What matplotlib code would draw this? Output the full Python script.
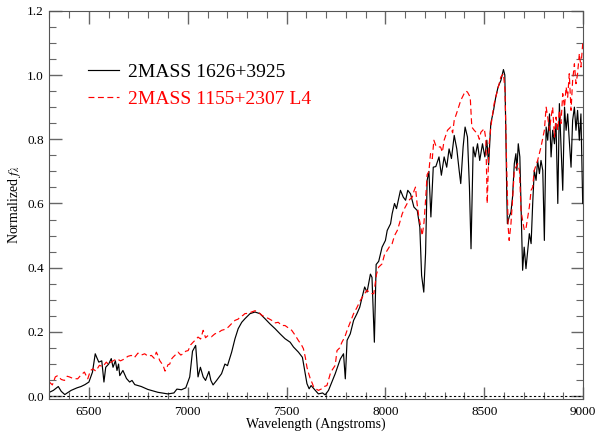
import matplotlib
matplotlib.use("Agg")
import matplotlib.pyplot as plt
from matplotlib.ticker import MultipleLocator, FormatStrFormatter
import numpy

#------------------------------------
# 2MASS 1626+3925 (black, solid)
wave_a = [6300, 6320, 6345, 6360, 6378, 6410, 6440, 6460, 6480, 6500,
          6518, 6532, 6540, 6550, 6565, 6576, 6585, 6600, 6613, 6622,
          6634, 6642, 6650, 6656, 6672, 6690, 6706, 6718, 6732, 6765,
          6798, 6849, 6900, 6930, 6945, 6968, 6990, 7010, 7024, 7040,
          7052, 7064, 7078, 7090, 7107, 7117, 7128, 7146, 7171, 7188,
          7201, 7222, 7239, 7255, 7273, 7289, 7315, 7340, 7365, 7391,
          7416, 7442, 7467, 7492, 7518, 7535, 7560, 7580, 7590, 7603,
          7614, 7624, 7645, 7661, 7682, 7695, 7712, 7729, 7746, 7772,
          7788, 7797, 7806, 7822, 7839, 7856, 7870, 7882, 7895, 7907,
          7924, 7932, 7944, 7953, 7966, 7983, 8000, 8009, 8026, 8034,
          8046, 8056, 8076, 8090, 8102, 8113, 8127, 8144, 8161, 8174,
          8183, 8194, 8203, 8211, 8220, 8230, 8242, 8255, 8271, 8283,
          8297, 8310, 8322, 8334, 8348, 8361, 8373, 8381, 8393, 8403,
          8415, 8425, 8433, 8444, 8454, 8466, 8477, 8491, 8503, 8513,
          8522, 8533, 8547, 8558, 8570, 8584, 8597, 8604, 8609, 8614,
          8617, 8626, 8635, 8643, 8652, 8660, 8665, 8672, 8680, 8689,
          8694, 8702, 8711, 8720, 8728, 8737, 8745, 8753, 8762, 8770,
          8779, 8787, 8796, 8804, 8813, 8821, 8830, 8838, 8846, 8855,
          8863, 8872, 8880, 8888, 8897, 8906, 8914, 8922, 8930, 8939,
          8947, 8956, 8964, 8972, 8981, 8989, 8998]
flux_a = [0.012, 0.018, 0.030, 0.015, 0.005, 0.018, 0.026, 0.030, 0.036, 0.044,
          0.075, 0.132, 0.120, 0.106, 0.110, 0.044, 0.090, 0.100, 0.117, 0.090,
          0.110, 0.080, 0.100, 0.064, 0.080, 0.055, 0.044, 0.049, 0.036, 0.030,
          0.021, 0.012, 0.007, 0.010, 0.022, 0.020, 0.026, 0.060, 0.140, 0.158,
          0.060, 0.090, 0.060, 0.049, 0.077, 0.049, 0.035, 0.049, 0.070, 0.100,
          0.095, 0.137, 0.179, 0.210, 0.230, 0.241, 0.257, 0.262, 0.257, 0.241,
          0.225, 0.210, 0.194, 0.179, 0.168, 0.153, 0.137, 0.121, 0.085, 0.039,
          0.023, 0.033, 0.018, 0.007, 0.010, 0.004, 0.018, 0.044, 0.070, 0.116,
          0.132, 0.054, 0.174, 0.194, 0.236, 0.257, 0.277, 0.308, 0.340, 0.324,
          0.380, 0.370, 0.168, 0.410, 0.420, 0.464, 0.485, 0.516, 0.537, 0.568,
          0.600, 0.584, 0.641, 0.620, 0.610, 0.641, 0.630, 0.589, 0.578, 0.526,
          0.376, 0.324, 0.444, 0.672, 0.700, 0.558, 0.713, 0.715, 0.745, 0.688,
          0.745, 0.713, 0.770, 0.740, 0.812, 0.770, 0.703, 0.662, 0.776, 0.838,
          0.807, 0.651, 0.459, 0.776, 0.745, 0.786, 0.734, 0.786, 0.745, 0.797,
          0.720, 0.849, 0.890, 0.931, 0.963, 0.983, 1.017, 1.000, 0.828, 0.620,
          0.537, 0.558, 0.573, 0.620, 0.724, 0.755, 0.703, 0.786, 0.745, 0.516,
          0.392, 0.464, 0.397, 0.454, 0.506, 0.475, 0.600, 0.703, 0.672, 0.734,
          0.693, 0.734, 0.703, 0.485, 0.838, 0.797, 0.879, 0.745, 0.828, 0.786,
          0.849, 0.600, 0.911, 0.786, 0.641, 0.900, 0.828, 0.879, 0.797, 0.713,
          0.859, 0.900, 0.828, 0.890, 0.797, 0.879, 0.600]

# 2MASS 1155+2307 L4 (red, dashed)
wave_b = [6300, 6315, 6330, 6342, 6360, 6376, 6390, 6401, 6420, 6443,
          6460, 6477, 6494, 6508, 6520, 6535, 6553, 6570, 6588, 6600,
          6612, 6628, 6642, 6660, 6680, 6697, 6714, 6730, 6748, 6765,
          6782, 6800, 6816, 6830, 6841, 6850, 6858, 6866, 6875, 6885,
          6892, 6900, 6909, 6917, 6925, 6940, 6951, 6965, 6976, 6990,
          7002, 7015, 7027, 7040, 7052, 7065, 7078, 7090, 7103, 7120,
          7137, 7155, 7171, 7188, 7205, 7222, 7239, 7255, 7264, 7280,
          7289, 7305, 7323, 7340, 7357, 7375, 7391, 7408, 7425, 7440,
          7458, 7475, 7492, 7510, 7526, 7543, 7560, 7575, 7585, 7595,
          7603, 7612, 7620, 7630, 7637, 7650, 7661, 7678, 7690, 7704,
          7712, 7721, 7729, 7746, 7755, 7768, 7780, 7795, 7806, 7822,
          7839, 7855, 7873, 7890, 7907, 7925, 7941, 7955, 7966, 7983,
          7995, 8009, 8020, 8034, 8046, 8060, 8072, 8085, 8097, 8110,
          8122, 8136, 8145, 8152, 8160, 8169, 8178, 8186, 8195, 8203,
          8211, 8220, 8228, 8237, 8245, 8255, 8262, 8279, 8288, 8297,
          8314, 8330, 8340, 8348, 8365, 8381, 8398, 8407, 8415, 8429,
          8437, 8449, 8466, 8475, 8483, 8500, 8508, 8515, 8524, 8533,
          8550, 8567, 8584, 8597, 8605, 8612, 8621, 8626, 8635, 8643,
          8652, 8669, 8678, 8686, 8694, 8703, 8712, 8720, 8728, 8737,
          8745, 8753, 8770, 8787, 8804, 8813, 8821, 8830, 8838, 8846,
          8855, 8863, 8872, 8880, 8888, 8897, 8906, 8914, 8922, 8930,
          8939, 8947, 8956, 8964, 8972, 8981, 8989, 8998]
flux_b = [0.044, 0.035, 0.060, 0.064, 0.052, 0.049, 0.062, 0.060, 0.055, 0.054,
          0.066, 0.075, 0.054, 0.080, 0.085, 0.078, 0.096, 0.092, 0.106, 0.098,
          0.106, 0.112, 0.116, 0.110, 0.116, 0.124, 0.127, 0.120, 0.134, 0.128,
          0.132, 0.124, 0.127, 0.118, 0.137, 0.125, 0.111, 0.104, 0.096, 0.078,
          0.085, 0.098, 0.100, 0.115, 0.121, 0.130, 0.137, 0.128, 0.132, 0.140,
          0.142, 0.160, 0.168, 0.176, 0.184, 0.178, 0.205, 0.182, 0.189, 0.185,
          0.194, 0.198, 0.205, 0.208, 0.215, 0.226, 0.236, 0.240, 0.246, 0.252,
          0.257, 0.258, 0.262, 0.266, 0.262, 0.252, 0.246, 0.242, 0.236, 0.228,
          0.230, 0.220, 0.220, 0.212, 0.205, 0.190, 0.173, 0.160, 0.148, 0.120,
          0.090, 0.070, 0.054, 0.040, 0.028, 0.022, 0.018, 0.023, 0.030, 0.033,
          0.050, 0.070, 0.080, 0.096, 0.142, 0.150, 0.168, 0.185, 0.205, 0.230,
          0.257, 0.275, 0.298, 0.315, 0.330, 0.320, 0.319, 0.380, 0.402, 0.412,
          0.440, 0.454, 0.465, 0.475, 0.500, 0.516, 0.540, 0.568, 0.585, 0.600,
          0.612, 0.620, 0.640, 0.651, 0.600, 0.558, 0.530, 0.500, 0.540, 0.610,
          0.690, 0.700, 0.755, 0.740, 0.797, 0.780, 0.776, 0.776, 0.760, 0.797,
          0.828, 0.838, 0.820, 0.859, 0.890, 0.921, 0.942, 0.950, 0.947, 0.931,
          0.838, 0.828, 0.817, 0.800, 0.822, 0.833, 0.800, 0.600, 0.780, 0.838,
          0.911, 0.952, 0.994, 1.004, 0.952, 0.750, 0.526, 0.485, 0.537, 0.610,
          0.703, 0.724, 0.703, 0.578, 0.547, 0.516, 0.526, 0.558, 0.589, 0.641,
          0.651, 0.703, 0.734, 0.776, 0.828, 0.900, 0.869, 0.828, 0.869, 0.900,
          0.807, 0.869, 0.828, 0.890, 0.849, 0.942, 0.900, 0.963, 0.931, 1.004,
          0.890, 0.983, 1.035, 0.973, 1.004, 1.067, 1.025, 1.098]

label_a = "2MASS 1626+3925"
label_b = "2MASS 1155+2307 L4"
#------------------------------------

plt.rcParams['font.family'] = ['Liberation Serif', 'DejaVu Serif']
plt.rcParams['mathtext.fontset'] = 'stix'

fig = plt.figure(figsize=(5.95, 4.32), dpi=100)
ax = fig.add_axes([0.083, 0.077, 0.897, 0.898])

ax.plot(wave_a, flux_a, color='black', lw=0.85, label=label_a)
ax.plot(wave_b, flux_b, color='red', lw=0.85, dashes=(5, 3), label=label_b)
ax.axhline(0.0, color='black', lw=0.8, ls=(0, (2, 2)))

ax.set_xlim(6300, 9000)
ax.set_ylim(-0.008, 1.2)
ax.xaxis.set_major_locator(MultipleLocator(500))
ax.xaxis.set_minor_locator(MultipleLocator(100))
ax.yaxis.set_major_locator(MultipleLocator(0.2))
ax.yaxis.set_minor_locator(MultipleLocator(0.05))
ax.yaxis.set_major_formatter(FormatStrFormatter('%.1f'))
ax.tick_params(which='both', direction='in', top=True, right=True,
               color='#666666', labelsize=9.5)
ax.tick_params(axis='x', pad=5)
ax.tick_params(axis='y', pad=4)
ax.tick_params(which='major', length=9, width=1)
ax.tick_params(which='minor', length=5, width=0.8)
for s in ax.spines.values():
    s.set_color('#555555')

ax.set_xlabel("Wavelength (Angstroms)", fontsize=10, labelpad=0)
ax.set_ylabel(r"Normalized $f_\lambda$", fontsize=10, labelpad=3)

ax.legend(loc='upper left', bbox_to_anchor=(0.040, 0.91), frameon=False,
          fontsize=14, labelcolor='linecolor', handlelength=1.6,
          handletextpad=0.45, labelspacing=0.5)

fig.savefig("out.png", dpi=100)
